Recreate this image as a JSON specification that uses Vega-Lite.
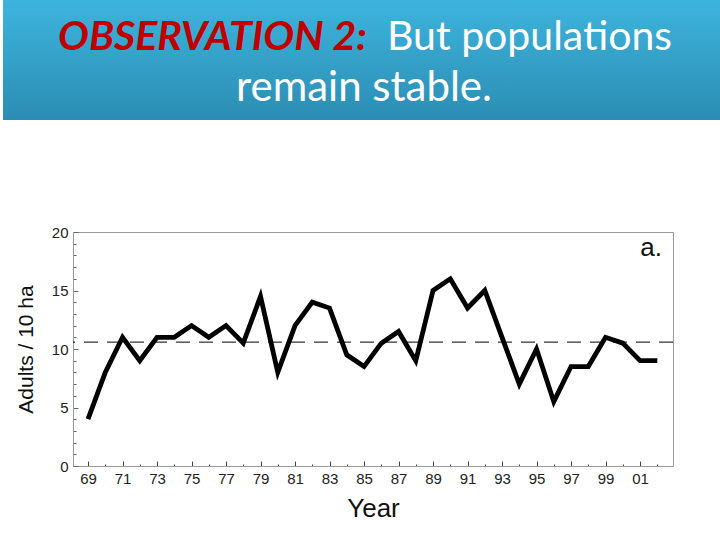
{
  "$schema": "https://vega.github.io/schema/vega-lite/v6.json",
  "background": "white",
  "padding": 0,
  "spacing": 104,
  "config": {"view": {"stroke": null}},
  "vconcat": [
    {
      "width": 720,
      "height": 120,
      "data": {"values": [{"red": "OBSERVATION 2:", "white1": "But populations", "white2": "remain stable."}]},
      "layer": [
        {
          "mark": {"type": "rect", "fill": {"gradient": "linear", "x1": 0, "y1": 0, "x2": 0, "y2": 1, "stops": [{"offset": 0, "color": "#3db4dd"}, {"offset": 1, "color": "#2c8db3"}]}},
          "encoding": {}
        },
        {
          "mark": {"type": "text", "font": "Lato", "fontSize": 41, "fontStyle": "italic", "fontWeight": "bold", "color": "#c00000", "align": "right", "baseline": "alphabetic", "x": 364, "y": 50},
          "encoding": {"text": {"field": "red"}}
        },
        {
          "mark": {"type": "text", "font": "Lato", "fontSize": 41, "color": "white", "align": "left", "baseline": "alphabetic", "x": 384, "y": 50},
          "encoding": {"text": {"field": "white1"}}
        },
        {
          "mark": {"type": "text", "font": "Lato", "fontSize": 42, "color": "white", "align": "center", "baseline": "alphabetic", "x": 361, "y": 101},
          "encoding": {"text": {"field": "white2"}}
        }
      ]
    },
    {
      "spacing": 7,
      "hconcat": [
        {
          "width": 1,
          "height": 20,
          "data": {"values": [{"s": 1}]},
          "mark": {"type": "point", "opacity": 0},
          "encoding": {}
        },
        {
          "width": 600,
          "height": 234,
          "view": {"stroke": "#999", "strokeWidth": 1},
          "title": {"text": "a.", "anchor": "end", "frame": "group", "offset": -36, "dx": -11, "fontSize": 26, "font": "Liberation Sans", "fontWeight": "normal", "color": "#111"},
          "data": {"values": [
            {"year": 1969, "adults": 4}, {"year": 1970, "adults": 8}, {"year": 1971, "adults": 11}, {"year": 1972, "adults": 9},
            {"year": 1973, "adults": 11}, {"year": 1974, "adults": 11}, {"year": 1975, "adults": 12}, {"year": 1976, "adults": 11},
            {"year": 1977, "adults": 12}, {"year": 1978, "adults": 10.5}, {"year": 1979, "adults": 14.5}, {"year": 1980, "adults": 8},
            {"year": 1981, "adults": 12}, {"year": 1982, "adults": 14}, {"year": 1983, "adults": 13.5}, {"year": 1984, "adults": 9.5},
            {"year": 1985, "adults": 8.5}, {"year": 1986, "adults": 10.5}, {"year": 1987, "adults": 11.5}, {"year": 1988, "adults": 9},
            {"year": 1989, "adults": 15}, {"year": 1990, "adults": 16}, {"year": 1991, "adults": 13.5}, {"year": 1992, "adults": 15},
            {"year": 1993, "adults": 11}, {"year": 1994, "adults": 7}, {"year": 1995, "adults": 10}, {"year": 1996, "adults": 5.5},
            {"year": 1997, "adults": 8.5}, {"year": 1998, "adults": 8.5}, {"year": 1999, "adults": 11}, {"year": 2000, "adults": 10.5},
            {"year": 2001, "adults": 9}, {"year": 2002, "adults": 9}
          ]},
          "layer": [
            {
              "mark": {"type": "rule", "color": "black", "strokeWidth": 1, "strokeDash": [14, 9]},
              "encoding": {
                "y": {
                  "aggregate": "mean", "field": "adults", "type": "quantitative",
                  "scale": {"domain": [0, 20], "nice": false},
                  "axis": {
                    "values": [0,1,2,3,4,5,6,7,8,9,10,11,12,13,14,15,16,17,18,19,20],
                    "labelExpr": "datum.value % 5 == 0 ? datum.label : ''",
                    "tickSize": {"condition": {"test": "datum.value % 5 == 0", "value": -5}, "value": -3},
                    "labelPadding": 10,
                    "labelFont": "Liberation Sans", "labelFontSize": 15, "labelColor": "#222",
                    "labelFlush": false, "labelOverlap": false,
                    "tickColor": "#666", "domainColor": "#999", "grid": false,
                    "title": "Adults / 10 ha", "titleFont": "Liberation Sans", "titleFontSize": 21, "titleFontWeight": "normal", "titleColor": "#111", "titlePadding": 15
                  }
                }
              }
            },
            {
              "mark": {"type": "line", "color": "black", "strokeWidth": 4.8},
              "encoding": {
                "x": {
                  "field": "year", "type": "quantitative",
                  "scale": {"domain": [1968.13, 2002.91], "nice": false, "zero": false},
                  "axis": {
                    "values": [1969,1970,1971,1972,1973,1974,1975,1976,1977,1978,1979,1980,1981,1982,1983,1984,1985,1986,1987,1988,1989,1990,1991,1992,1993,1994,1995,1996,1997,1998,1999,2000,2001,2002],
                    "labelExpr": "datum.value % 2 == 1 ? substring(toString(datum.value), 2) : ''",
                    "tickSize": {"condition": {"test": "datum.value % 2 == 1", "value": -5}, "value": -2},
                    "labelPadding": 10,
                    "labelFont": "Liberation Sans", "labelFontSize": 15, "labelColor": "#222",
                    "labelFlush": false, "labelOverlap": false,
                    "tickColor": "#444", "domainColor": "#999", "grid": false,
                    "title": "Year", "titleFont": "Liberation Sans", "titleFontSize": 26, "titleFontWeight": "normal", "titleColor": "#111", "titlePadding": 6
                  }
                },
                "y": {
                  "field": "adults", "type": "quantitative",
                  "scale": {"domain": [0, 20], "nice": false},
                  "axis": {
                    "values": [0,1,2,3,4,5,6,7,8,9,10,11,12,13,14,15,16,17,18,19,20],
                    "labelExpr": "datum.value % 5 == 0 ? datum.label : ''",
                    "tickSize": {"condition": {"test": "datum.value % 5 == 0", "value": -5}, "value": -3},
                    "labelPadding": 10,
                    "labelFont": "Liberation Sans", "labelFontSize": 15, "labelColor": "#222",
                    "labelFlush": false, "labelOverlap": false,
                    "tickColor": "#666", "domainColor": "#999", "grid": false,
                    "title": "Adults / 10 ha", "titleFont": "Liberation Sans", "titleFontSize": 21, "titleFontWeight": "normal", "titleColor": "#111", "titlePadding": 15
                  }
                }
              }
            }
          ]
        }
      ]
    }
  ]
}
